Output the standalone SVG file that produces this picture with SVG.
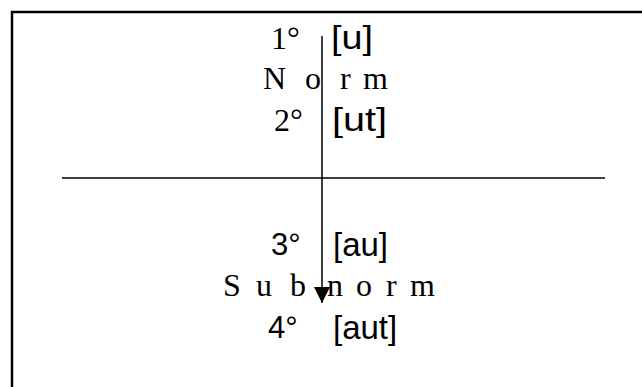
<svg xmlns="http://www.w3.org/2000/svg" width="642" height="387" viewBox="0 0 642 387">
<style>
.serif{font-family:"Liberation Serif","Times New Roman",serif;font-size:32px;fill:#000}
.num{font-family:"Liberation Serif","Times New Roman",serif;font-size:32px;fill:#000}
.numsans{font-family:"Liberation Sans",Arial,sans-serif;font-size:31px;fill:#000}
.sans{font-family:"Liberation Sans",Arial,sans-serif;font-size:33px;fill:#000}
</style>
<defs>
<marker id="ah" viewBox="0 0 16 16" refX="16" refY="8" markerWidth="16" markerHeight="16" markerUnits="userSpaceOnUse" orient="auto">
<path d="M0,0 L16,8 L0,16 Z" fill="#000"/>
</marker>
</defs>
<rect width="642" height="387" fill="#fff"/>
<path d="M12,387 V12 H642" fill="none" stroke="#000" stroke-width="2.5"/>
<g id="divider"><line x1="62" y1="178" x2="605" y2="178" stroke="#000" stroke-width="1.4"/></g>
<g id="norm">
<text class="num" x="271" y="49">1°</text>
<text class="sans" x="331" y="49" textLength="42" lengthAdjust="spacingAndGlyphs">[u]</text>
<text class="serif" x="263 290 305 328 340 352 363" y="89">N o r m</text>
<text class="num" x="274" y="131">2°</text>
<text class="sans" x="332" y="131" textLength="55" lengthAdjust="spacingAndGlyphs">[ut]</text>
</g>
<g id="subnorm">
<text class="numsans" x="271" y="255">3°</text>
<text class="sans" x="333" y="256">[au]</text>
<text class="serif" x="223 240 256 271 290 305 327 342 356 372 386 397 410" y="296">S u b n o r m</text>
<text class="numsans" x="268" y="338">4°</text>
<text class="sans" x="333" y="339">[aut]</text>
</g>
<g id="connectors">
<line x1="322" y1="36" x2="322" y2="303" stroke="#000" stroke-width="1.5" marker-end="url(#ah)"/>
</g>
</svg>
